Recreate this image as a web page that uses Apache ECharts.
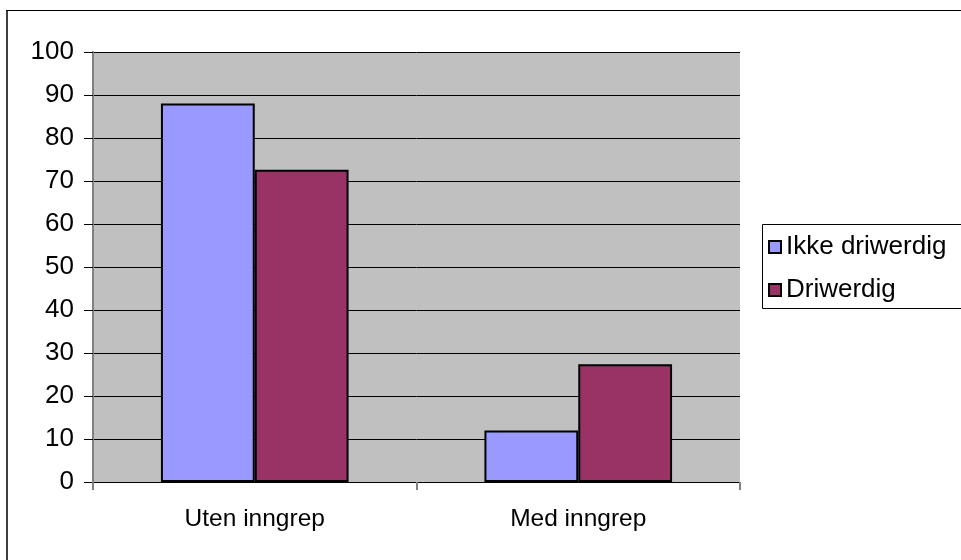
<!DOCTYPE html>
<html>
<head>
<meta charset="utf-8">
<script src="https://cdn.jsdelivr.net/npm/echarts@6/dist/echarts.min.js"></script>
<style>
  html, body { margin: 0; padding: 0; background: #fff; }
  #chart { width: 961px; height: 560px; }
</style>
</head>
<body>
<div id="chart"></div>
<script>
// Categories and series values (percent)
const categories = ['Uten inngrep', 'Med inngrep'];
const ikkeDriwerdig = [88, 12];
const driwerdig = [72.6, 27.4];
const seriesNames = ['Ikke driwerdig', 'Driwerdig'];
const yTicks = { min: 0, max: 100, interval: 10 };

const FONT = '"Liberation Sans", Arial, sans-serif';

const chart = echarts.init(document.getElementById('chart'), null, { renderer: 'canvas' });

chart.setOption({
  backgroundColor: '#ffffff',
  animation: false,
  textStyle: { fontFamily: FONT, color: '#000' },
  grid: {
    left: 93, right: 221, top: 52, bottom: 78,
    show: true, backgroundColor: '#c0c0c0', borderWidth: 0
  },
  legend: {
    orient: 'vertical',
    left: 768, top: 234, padding: 0,
    itemWidth: 12, itemHeight: 12, itemGap: 17,
    icon: 'rect',
    textStyle: { fontFamily: FONT, fontSize: 26, color: '#000', lineHeight: 26 },
    data: seriesNames
  },
  xAxis: {
    type: 'category',
    data: categories,
    boundaryGap: true,
    axisLine: { show: true, lineStyle: { color: '#000', width: 1 } },
    axisTick: { show: true, length: 8, lineStyle: { color: '#808080', width: 2 } },
    axisLabel: { fontFamily: FONT, fontSize: 24.5, color: '#000', margin: 25 },
    splitLine: { show: false }
  },
  yAxis: {
    type: 'value',
    min: yTicks.min, max: yTicks.max, interval: yTicks.interval,
    axisLine: { show: true, lineStyle: { color: '#808080', width: 2 } },
    axisTick: { show: true, length: 9, lineStyle: { color: '#000', width: 1 } },
    axisLabel: { fontFamily: FONT, fontSize: 26, color: '#000', margin: 19 },
    splitLine: { show: true, lineStyle: { color: '#000', width: 1 } }
  },
  graphic: [
    // outer chart frame
    { type: 'line', shape: { x1: 7, y1: 10, x2: 7, y2: 570 }, style: { stroke: '#404040', lineWidth: 2 } },
    { type: 'line', shape: { x1: 6, y1: 10.5, x2: 970, y2: 10.5 }, style: { stroke: '#000', lineWidth: 1 } },
    // legend frame
    { type: 'rect', shape: { x: 762.5, y: 224.5, width: 230, height: 84 }, style: { fill: 'none', stroke: '#000', lineWidth: 1 }, z: 0 }
  ],
  series: [
    {
      name: seriesNames[0], type: 'bar', data: ikkeDriwerdig,
      barGap: '0%', barCategoryGap: '42%',
      itemStyle: { color: '#9999ff', borderColor: '#000', borderWidth: 2 }
    },
    {
      name: seriesNames[1], type: 'bar', data: driwerdig,
      barGap: '0%', barCategoryGap: '42%',
      itemStyle: { color: '#993366', borderColor: '#000', borderWidth: 2 }
    }
  ]
});
</script>
</body>
</html>
